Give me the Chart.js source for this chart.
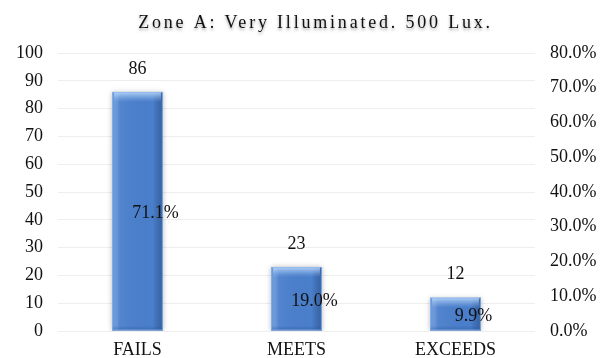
<!DOCTYPE html>
<html>
<head>
<meta charset="utf-8">
<script src="https://cdn.jsdelivr.net/npm/chart.js@4/dist/chart.umd.min.js"></script>
<style>
  html, body { margin: 0; padding: 0; background: #fff; }
  #wrap { width: 609px; height: 358px; }
</style>
</head>
<body>
<div id="wrap"><canvas id="zoneChart"></canvas></div>
<script>
// chart data
const categories = ["FAILS", "MEETS", "EXCEEDS"];
const counts = [86, 23, 12];
const percents = ["71.1%", "19.0%", "9.9%"];
const titleText = "Zone A: Very Illuminated. 500 Lux.";

const FONT = "'Liberation Serif', 'Times New Roman', serif";

// shadow under the bars + bevel highlights drawn on top
const barLook = {
    id: "barLook",
    beforeDatasetDraw(chart) {
        const ctx = chart.ctx;
        ctx.save();
        ctx.shadowColor = "rgba(0,0,0,0.28)";
        ctx.shadowBlur = 5;
        ctx.shadowOffsetX = 0;
        ctx.shadowOffsetY = 0;
    },
    afterDatasetDraw(chart) {
        const ctx = chart.ctx;
        ctx.restore();
        const meta = chart.getDatasetMeta(0);
        meta.data.forEach(bar => {
            const l = bar.x - bar.width / 2, r = bar.x + bar.width / 2;
            const t = bar.y, b = bar.base;
            // horizontal shading
            const g = ctx.createLinearGradient(l, 0, r, 0);
            g.addColorStop(0, "rgba(120,165,230,0.55)");
            g.addColorStop(0.15, "rgba(255,255,255,0.05)");
            g.addColorStop(0.8, "rgba(0,0,0,0.0)");
            g.addColorStop(1, "rgba(20,50,110,0.35)");
            ctx.fillStyle = g;
            ctx.fillRect(l, t, r - l, b - t);
            // top bevel
            const bh = Math.min(10, (b - t) / 3);
            const tg = ctx.createLinearGradient(0, t, 0, t + bh);
            tg.addColorStop(0, "rgba(200,225,255,0.85)");
            tg.addColorStop(1, "rgba(150,190,240,0)");
            ctx.fillStyle = tg;
            ctx.fillRect(l + 2, t, r - l - 4, bh);
            // bottom bevel
            const bg = ctx.createLinearGradient(0, b - 5, 0, b);
            bg.addColorStop(0, "rgba(40,80,150,0)");
            bg.addColorStop(1, "rgba(40,80,150,0.45)");
            ctx.fillStyle = bg;
            ctx.fillRect(l, b - 5, r - l, 5);
            // thin light rim
            ctx.strokeStyle = "rgba(140,180,235,0.8)";
            ctx.lineWidth = 1;
            ctx.strokeRect(l + 0.5, t + 0.5, r - l - 1, b - t - 1);
        });
    }
};

// count labels above, percentage labels inside
const barLabels = {
    id: "barLabels",
    afterDatasetsDraw(chart) {
        const ctx = chart.ctx;
        const meta = chart.getDatasetMeta(0);
        ctx.save();
        ctx.font = "18px " + FONT;
        ctx.fillStyle = "#111";
        ctx.textAlign = "center";
        ctx.textBaseline = "middle";
        meta.data.forEach((bar, i) => {
            ctx.fillText(String(counts[i]), bar.x, bar.y - 23);
            ctx.fillText(percents[i], bar.x + 18, (bar.y + bar.base) / 2 + 2);
        });
        ctx.restore();
    }
};

// spaced title with a soft shadow
const spacedTitle = {
    id: "spacedTitle",
    afterDraw(chart) {
        const ctx = chart.ctx;
        ctx.save();
        ctx.font = "18px " + FONT;
        ctx.letterSpacing = "2.8px";
        ctx.textAlign = "center";
        ctx.textBaseline = "middle";
        ctx.shadowColor = "rgba(0,0,0,0.35)";
        ctx.shadowBlur = 3;
        ctx.shadowOffsetY = 2;
        ctx.fillStyle = "#111";
        ctx.fillText(titleText, chart.width / 2 + 11, 23);
        ctx.restore();
    }
};

new Chart(document.getElementById("zoneChart"), {
    type: "bar",
    data: {
        labels: categories,
        datasets: [{
            label: "Count",
            data: counts,
            backgroundColor: "#4a7fcc",
            borderWidth: 0,
            barPercentage: 0.32,
            categoryPercentage: 1,
            yAxisID: "y"
        }]
    },
    options: {
        responsive: true,
        maintainAspectRatio: false,
        animation: false,
        layout: { padding: { top: 53, left: 0, right: 0, bottom: 0 } },
        plugins: {
            legend: { display: false },
            tooltip: { enabled: false },
            title: { display: false }
        },
        scales: {
            x: {
                grid: { display: false, drawTicks: false },
                border: { display: false },
                ticks: { color: "#111", font: { family: FONT, size: 18 }, padding: 8 },
                afterFit(s) { s.height = 27; }
            },
            y: {
                position: "left",
                min: 0,
                max: 100,
                ticks: { stepSize: 10, color: "#111", font: { family: FONT, size: 18 }, padding: 15 },
                grid: { color: "#eeeeee", drawTicks: false },
                border: { display: false },
                afterFit(s) { s.width = 58; }
            },
            y2: {
                position: "right",
                min: 0,
                max: 80,
                ticks: {
                    stepSize: 10,
                    color: "#111",
                    font: { family: FONT, size: 18 },
                    padding: 15,
                    callback: v => v.toFixed(1) + "%"
                },
                grid: { display: false, drawTicks: false },
                border: { display: false },
                afterFit(s) { s.width = 74; }
            }
        }
    },
    plugins: [barLook, barLabels, spacedTitle]
});
</script>
</body>
</html>
